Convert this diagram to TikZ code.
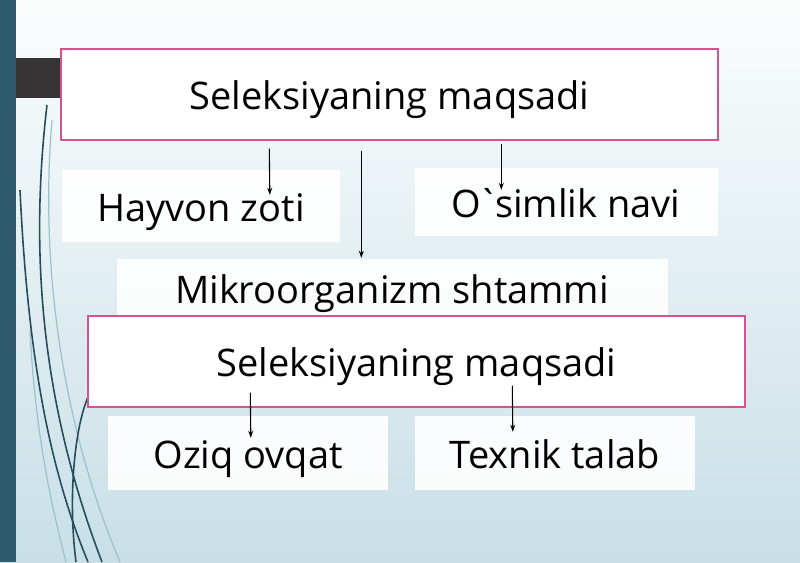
\documentclass[tikz,border=0pt]{standalone}
\usepackage{fontspec}
\setmainfont{Open Sans}
\usetikzlibrary{arrows.meta,calc}
\definecolor{tealbar}{HTML}{2D5A6D}
\definecolor{darkbar}{HTML}{363334}
\definecolor{pinkb}{HTML}{D4528E}
\definecolor{bgtop}{HTML}{FBFDFD}
\definecolor{bgbot}{HTML}{C8DFE7}
\definecolor{curvec}{HTML}{244E5E}
\definecolor{curvel}{HTML}{9CC0CC}
\tikzset{
  txt/.style={inner sep=0pt,text height=30pt,text depth=0pt,font=\fontsize{38}{44}\selectfont},
  mainbox/.style={txt,draw=pinkb,line width=1.4pt,fill=white},
  subbox/.style={txt,fill=white,fill opacity=0.9,text opacity=1},
  arr/.style={draw=black,line width=1.1pt,-{Stealth[length=7pt,width=5pt]}},
  swirl/.style={draw=curvec,line width=1.6pt},
  swirll/.style={draw=curvel,line width=1.2pt}
}
\begin{document}
\begin{tikzpicture}[x=1pt,y=-1pt]
\useasboundingbox (0,0) rectangle (800,562);
\shade[top color=bgtop,bottom color=bgbot] (0,0) rectangle (800,562);
% decorative curves
\draw[swirll] (52,120) .. controls (40,260) and (60,420) .. (120,562);
\draw[swirll] (30,330) .. controls (35,430) and (50,500) .. (66,562);
\draw[swirl] (47,105) .. controls (30,250) and (40,400) .. (102,562);
\draw[swirl] (20,190) .. controls (28,360) and (50,470) .. (88,562);
\draw[swirl] (88,397) .. controls (74,430) and (68,500) .. (76,562);
% bars
\fill[tealbar] (0,0) rectangle (16,562);
\fill[darkbar] (16,58) rectangle (61,98);
% boxes
\node[subbox,minimum width=278,minimum height=72] (hz) at (201,206) {Hayvon zoti};
\node[subbox,minimum width=303,minimum height=68] (on) at (566,202) {O\kern-4pt\textasciigrave\kern-4pt simlik navi};
\node[subbox,minimum width=551,minimum height=58] (ms) at (392,288) {Mikroorganizm shtammi};
\node[subbox,minimum width=280,minimum height=74] (oo) at (248,453) {Oziq ovqat};
\node[subbox,minimum width=280,minimum height=74] (tt) at (555,453) {Texnik talab};
\node[mainbox,minimum width=657,minimum height=91] (b1) at (389.5,94.5) {Seleksiyaning maqsadi};
\node[mainbox,minimum width=657,minimum height=91] (b2) at (416.5,361.5) {Seleksiyaning maqsadi};
% connectors
\draw[arr] ($(b1.south west)+(209,8)$) -- ($(hz.north west)+(208,25)$);
\draw[arr] ($(b1.south west)+(301,10)$) -- ($(ms.north west)+(245,-1)$);
\draw[arr] ($(b1.south west)+(441,3)$) -- ($(on.north west)+(87,22)$);
\draw[arr] ($(b2.south west)+(163,-15)$) -- ($(oo.north west)+(143,22)$);
\draw[arr] ($(b2.south west)+(425,-22)$) -- ($(tt.north west)+(98,16)$);
\end{tikzpicture}
\end{document}
